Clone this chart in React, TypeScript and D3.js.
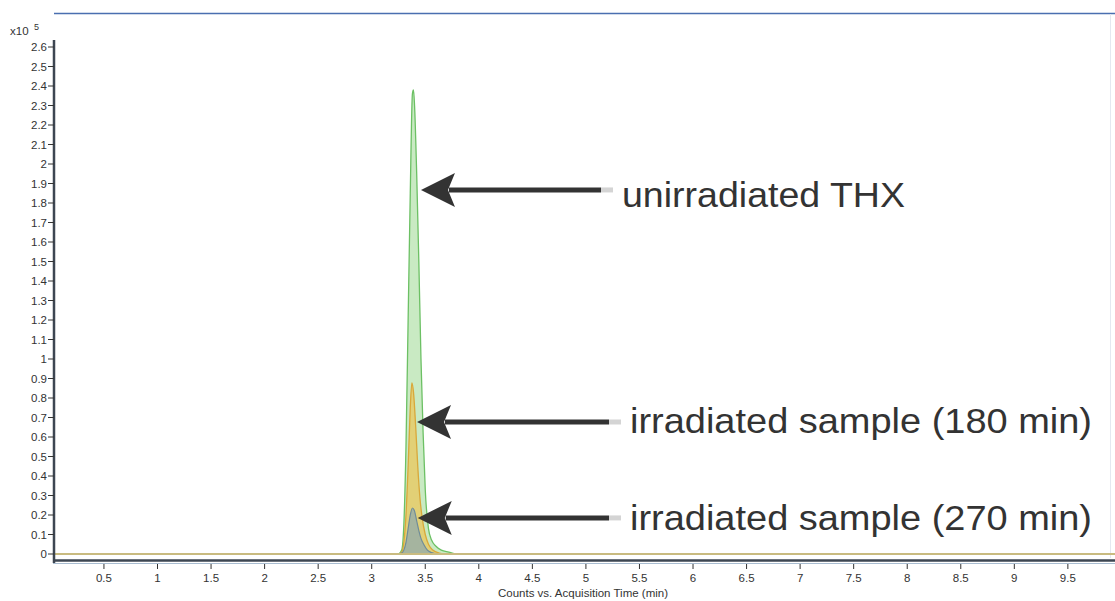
import React from "react";
import * as d3 from "d3";

// ---- data ----
const greenTimes = [0.03, 3.25, 3.28, 3.3, 3.32, 3.34, 3.36, 3.38, 3.39, 3.4, 3.42, 3.44, 3.46, 3.48, 3.5, 3.53, 3.56, 3.6, 3.65, 3.72, 3.8, 9.94];
const greenValues = [0, 0, 0.02, 0.15, 0.55, 1.2, 1.85, 2.36, 2.38, 2.3, 1.95, 1.5, 1.0, 0.62, 0.33, 0.13, 0.07, 0.04, 0.02, 0.01, 0, 0];

const orangeTimes = [0.03, 3.25, 3.28, 3.3, 3.32, 3.34, 3.36, 3.375, 3.39, 3.41, 3.43, 3.45, 3.47, 3.5, 3.53, 3.57, 3.63, 3.7, 9.94];
const orangeValues = [0, 0, 0.01, 0.06, 0.2, 0.45, 0.75, 0.877, 0.83, 0.66, 0.45, 0.29, 0.19, 0.1, 0.05, 0.02, 0.005, 0, 0];

const grayTimes = [0.03, 3.25, 3.28, 3.3, 3.32, 3.34, 3.36, 3.38, 3.4, 3.42, 3.44, 3.46, 3.49, 3.52, 3.56, 3.62, 9.94];
const grayValues = [0, 0, 0.005, 0.02, 0.06, 0.13, 0.2, 0.236, 0.22, 0.17, 0.12, 0.08, 0.045, 0.02, 0.007, 0, 0];

const yTicks = d3.range(0, 27).map((i) => i / 10);
const xTicks = [0.5, 1, 1.5, 2, 2.5, 3, 3.5, 4, 4.5, 5, 5.5, 6, 6.5, 7, 7.5, 8, 8.5, 9, 9.5];

const annotations = [
  { label: "unirradiated THX", t: 3.46, v: 1.867 },
  { label: "irradiated sample (180 min)", t: 3.423, v: 0.677 },
  { label: "irradiated sample (270 min)", t: 3.43, v: 0.185 },
];

// ---- layout ----
const W = 1115;
const H = 601;
const x = d3.scaleLinear().domain([0, 9.94]).range([50.4, 1115]);
const y = d3.scaleLinear().domain([0, 2.6]).range([554, 47]);

function series(times: number[], values: number[]) {
  return times.map((t, i) => [t, values[i]] as [number, number]);
}

const textLayout = [
  { x: 622, dy: 17, len: 283 },
  { x: 630, dy: 11, len: 462 },
  { x: 630, dy: 12, len: 462 },
];

export default function App() {
  const area = d3
    .area<[number, number]>()
    .x((d) => x(d[0]))
    .y0(y(0))
    .y1((d) => y(d[1]))
    .curve(d3.curveMonotoneX);
  const line = d3
    .line<[number, number]>()
    .x((d) => x(d[0]))
    .y((d) => y(d[1]))
    .curve(d3.curveMonotoneX);

  const g = series(greenTimes, greenValues);
  const o = series(orangeTimes, orangeValues);
  const s = series(grayTimes, grayValues);

  const font = "'Liberation Sans', Arial, sans-serif";

  return (
    <svg
      width={W}
      height={H}
      style={{ position: "absolute", left: 0, top: 0, background: "#fff" }}
      fontFamily={font}
    >
      {/* frame */}
      <line x1={54} x2={W} y1={13.5} y2={13.5} stroke="#4a6fb0" strokeWidth={1.5} />
      <line x1={1110.5} x2={1110.5} y1={14} y2={558} stroke="#e4e8f0" strokeWidth={1} />

      {/* peaks */}
      <path d={area(g) || ""} fill="#bfe6b8" fillOpacity={0.85} />
      <path d={line(g) || ""} fill="none" stroke="#6cc064" strokeWidth={1.3} />
      <path d={area(o) || ""} fill="#e6cb68" fillOpacity={0.85} />
      <path d={line(o) || ""} fill="none" stroke="#d9a83a" strokeWidth={1.3} />
      <path d={area(s) || ""} fill="#9fb0a4" fillOpacity={0.9} />
      <path d={line(s) || ""} fill="none" stroke="#6f8c98" strokeWidth={1.2} />

      {/* baseline */}
      <line x1={55} x2={W} y1={y(0)} y2={y(0)} stroke="#c9bb80" strokeWidth={2} />

      {/* y axis */}
      <line x1={54} x2={54} y1={40} y2={563} stroke="#3d4652" strokeWidth={2.5} />
      {yTicks.map((v) => (
        <g key={v}>
          <line x1={48} x2={54} y1={y(v)} y2={y(v)} stroke="#333" strokeWidth={1} />
          <text x={47} y={y(v) + 4} textAnchor="end" fontSize={11.5} fill="#333">
            {d3.format("~g")(v)}
          </text>
        </g>
      ))}
      <text x={10} y={35} fontSize={11.5} fill="#333">
        x10
      </text>
      <text x={34} y={30} fontSize={9} fill="#333">
        5
      </text>

      {/* x axis */}
      <line x1={53} x2={W} y1={560.5} y2={560.5} stroke="#3d4652" strokeWidth={2.5} />
      <line x1={53} x2={W} y1={563.5} y2={563.5} stroke="#a8bcd0" strokeWidth={1} />
      {xTicks.map((t) => (
        <g key={t}>
          <line x1={x(t)} x2={x(t)} y1={564} y2={569} stroke="#333" strokeWidth={1} />
          <text x={x(t)} y={582} textAnchor="middle" fontSize={11.5} fill="#333">
            {t}
          </text>
        </g>
      ))}
      <text x={583} y={597} textAnchor="middle" fontSize={11.5} fill="#333">
        Counts vs. Acquisition Time (min)
      </text>

      {/* annotations */}
      {annotations.map((a, i) => {
        const tx = x(a.t);
        const ty = y(a.v);
        const shaftEnd = i === 0 ? 601 : 609;
        const L = textLayout[i];
        return (
          <g key={a.label}>
            <line x1={tx + 28} x2={shaftEnd} y1={ty} y2={ty} stroke="#333" strokeWidth={5} />
            <line x1={shaftEnd} x2={shaftEnd + 12} y1={ty} y2={ty} stroke="#d4d4d4" strokeWidth={5} />
            <path
              d={`M${tx},${ty} L${tx + 34},${ty - 17} L${tx + 27},${ty} L${tx + 34},${ty + 17} Z`}
              fill="#333"
            />
            <text
              x={L.x}
              y={ty + L.dy}
              fontSize={34.5}
              fill="#333"
              textLength={L.len}
              lengthAdjust="spacingAndGlyphs"
            >
              {a.label}
            </text>
          </g>
        );
      })}
    </svg>
  );
}
